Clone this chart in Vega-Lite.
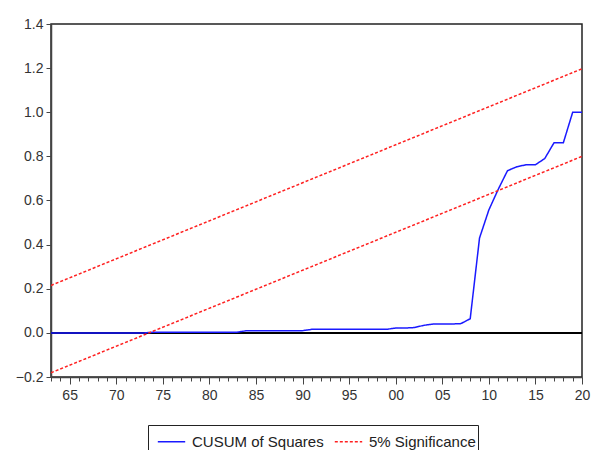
{
  "$schema": "https://vega.github.io/schema/vega-lite/v6.json",
  "autosize": {"type": "none"},
  "padding": {"left": 51, "top": 24, "right": 11, "bottom": 73},
  "width": 531,
  "height": 353,
  "background": "white",
  "config": {
    "view": {"stroke": "#222", "strokeWidth": 1.5},
    "font": "Liberation Sans",
    "axis": {"grid": false, "labelFont": "Liberation Sans", "labelFontSize": 14, "labelColor": "#333", "domainColor": "#444", "domainWidth": 1.5, "tickColor": "#444", "tickWidth": 1}
  },
  "data": {
    "values": [
      {"year": 1963, "value": 0, "series": "CUSUM of Squares", "line": "c"},
      {"year": 1964, "value": 0, "series": "CUSUM of Squares", "line": "c"},
      {"year": 1965, "value": 0, "series": "CUSUM of Squares", "line": "c"},
      {"year": 1966, "value": 0, "series": "CUSUM of Squares", "line": "c"},
      {"year": 1967, "value": 0, "series": "CUSUM of Squares", "line": "c"},
      {"year": 1968, "value": 0, "series": "CUSUM of Squares", "line": "c"},
      {"year": 1969, "value": 0, "series": "CUSUM of Squares", "line": "c"},
      {"year": 1970, "value": 0, "series": "CUSUM of Squares", "line": "c"},
      {"year": 1971, "value": 0, "series": "CUSUM of Squares", "line": "c"},
      {"year": 1972, "value": 0, "series": "CUSUM of Squares", "line": "c"},
      {"year": 1973, "value": 0, "series": "CUSUM of Squares", "line": "c"},
      {"year": 1974, "value": 0.003, "series": "CUSUM of Squares", "line": "c"},
      {"year": 1975, "value": 0.003, "series": "CUSUM of Squares", "line": "c"},
      {"year": 1976, "value": 0.003, "series": "CUSUM of Squares", "line": "c"},
      {"year": 1977, "value": 0.003, "series": "CUSUM of Squares", "line": "c"},
      {"year": 1978, "value": 0.003, "series": "CUSUM of Squares", "line": "c"},
      {"year": 1979, "value": 0.003, "series": "CUSUM of Squares", "line": "c"},
      {"year": 1980, "value": 0.003, "series": "CUSUM of Squares", "line": "c"},
      {"year": 1981, "value": 0.003, "series": "CUSUM of Squares", "line": "c"},
      {"year": 1982, "value": 0.003, "series": "CUSUM of Squares", "line": "c"},
      {"year": 1983, "value": 0.003, "series": "CUSUM of Squares", "line": "c"},
      {"year": 1984, "value": 0.01, "series": "CUSUM of Squares", "line": "c"},
      {"year": 1985, "value": 0.01, "series": "CUSUM of Squares", "line": "c"},
      {"year": 1986, "value": 0.01, "series": "CUSUM of Squares", "line": "c"},
      {"year": 1987, "value": 0.01, "series": "CUSUM of Squares", "line": "c"},
      {"year": 1988, "value": 0.01, "series": "CUSUM of Squares", "line": "c"},
      {"year": 1989, "value": 0.01, "series": "CUSUM of Squares", "line": "c"},
      {"year": 1990, "value": 0.01, "series": "CUSUM of Squares", "line": "c"},
      {"year": 1991, "value": 0.016, "series": "CUSUM of Squares", "line": "c"},
      {"year": 1992, "value": 0.016, "series": "CUSUM of Squares", "line": "c"},
      {"year": 1993, "value": 0.016, "series": "CUSUM of Squares", "line": "c"},
      {"year": 1994, "value": 0.016, "series": "CUSUM of Squares", "line": "c"},
      {"year": 1995, "value": 0.016, "series": "CUSUM of Squares", "line": "c"},
      {"year": 1996, "value": 0.016, "series": "CUSUM of Squares", "line": "c"},
      {"year": 1997, "value": 0.016, "series": "CUSUM of Squares", "line": "c"},
      {"year": 1998, "value": 0.016, "series": "CUSUM of Squares", "line": "c"},
      {"year": 1999, "value": 0.016, "series": "CUSUM of Squares", "line": "c"},
      {"year": 2000, "value": 0.022, "series": "CUSUM of Squares", "line": "c"},
      {"year": 2001, "value": 0.022, "series": "CUSUM of Squares", "line": "c"},
      {"year": 2002, "value": 0.024, "series": "CUSUM of Squares", "line": "c"},
      {"year": 2003, "value": 0.034, "series": "CUSUM of Squares", "line": "c"},
      {"year": 2004, "value": 0.04, "series": "CUSUM of Squares", "line": "c"},
      {"year": 2005, "value": 0.04, "series": "CUSUM of Squares", "line": "c"},
      {"year": 2006, "value": 0.04, "series": "CUSUM of Squares", "line": "c"},
      {"year": 2007, "value": 0.042, "series": "CUSUM of Squares", "line": "c"},
      {"year": 2008, "value": 0.064, "series": "CUSUM of Squares", "line": "c"},
      {"year": 2009, "value": 0.43, "series": "CUSUM of Squares", "line": "c"},
      {"year": 2010, "value": 0.557, "series": "CUSUM of Squares", "line": "c"},
      {"year": 2011, "value": 0.65, "series": "CUSUM of Squares", "line": "c"},
      {"year": 2012, "value": 0.735, "series": "CUSUM of Squares", "line": "c"},
      {"year": 2013, "value": 0.753, "series": "CUSUM of Squares", "line": "c"},
      {"year": 2014, "value": 0.762, "series": "CUSUM of Squares", "line": "c"},
      {"year": 2015, "value": 0.762, "series": "CUSUM of Squares", "line": "c"},
      {"year": 2016, "value": 0.79, "series": "CUSUM of Squares", "line": "c"},
      {"year": 2017, "value": 0.862, "series": "CUSUM of Squares", "line": "c"},
      {"year": 2018, "value": 0.862, "series": "CUSUM of Squares", "line": "c"},
      {"year": 2019, "value": 1.0, "series": "CUSUM of Squares", "line": "c"},
      {"year": 2020, "value": 1.0, "series": "CUSUM of Squares", "line": "c"},
      {"year": 1963, "value": 0.215, "series": "5% Significance", "line": "u"},
      {"year": 2020, "value": 1.197, "series": "5% Significance", "line": "u"},
      {"year": 1963, "value": -0.181, "series": "5% Significance", "line": "l"},
      {"year": 2020, "value": 0.8, "series": "5% Significance", "line": "l"}
    ]
  },
  "layer": [
    {
      "mark": {"type": "rule", "color": "#000", "strokeWidth": 1.5},
      "encoding": {"y": {"datum": 0, "type": "quantitative"}}
    },
    {
      "mark": {"type": "line", "strokeWidth": 1.5, "clip": true},
      "encoding": {
        "x": {
          "field": "year", "type": "quantitative",
          "scale": {"domain": [1963, 2020], "nice": false, "zero": false},
          "axis": {
            "title": null,
            "values": [1963,1964,1965,1966,1967,1968,1969,1970,1971,1972,1973,1974,1975,1976,1977,1978,1979,1980,1981,1982,1983,1984,1985,1986,1987,1988,1989,1990,1991,1992,1993,1994,1995,1996,1997,1998,1999,2000,2001,2002,2003,2004,2005,2006,2007,2008,2009,2010,2011,2012,2013,2014,2015,2016,2017,2018,2019,2020],
            "labelExpr": "datum.value % 5 == 0 ? slice(toString(datum.value), 2) : ''",
            "labelOverlap": false,
            "labelFlush": false,
            "labelPadding": 4,
            "tickSize": {"condition": {"test": "datum.value % 5 == 0", "value": 7}, "value": 4}
          }
        },
        "y": {
          "field": "value", "type": "quantitative",
          "scale": {"domain": [-0.2, 1.4], "nice": false, "zero": false},
          "axis": {"title": null, "values": [-0.2, 0, 0.2, 0.4, 0.6, 0.8, 1.0, 1.2, 1.4], "format": ".1f", "tickSize": 5, "labelPadding": 3}
        },
        "detail": {"field": "line"},
        "color": {
          "field": "series", "type": "nominal",
          "scale": {"domain": ["CUSUM of Squares", "5% Significance"], "range": ["#1a1aff", "#ff2020"]},
          "legend": {
            "title": null, "orient": "none", "direction": "horizontal",
            "legendX": 97, "legendY": 401,
            "strokeColor": "#222", "padding": 2,
            "labelFont": "Liberation Sans", "labelFontSize": 15, "labelColor": "#222",
            "symbolSize": 750, "symbolStrokeWidth": 1.5, "symbolOffset": 7,
            "columnPadding": 3, "labelOffset": 6
          }
        },
        "strokeDash": {
          "field": "series", "type": "nominal",
          "scale": {"domain": ["CUSUM of Squares", "5% Significance"], "range": [[1, 0], [3, 2]]},
          "legend": null
        }
      }
    }
  ]
}
